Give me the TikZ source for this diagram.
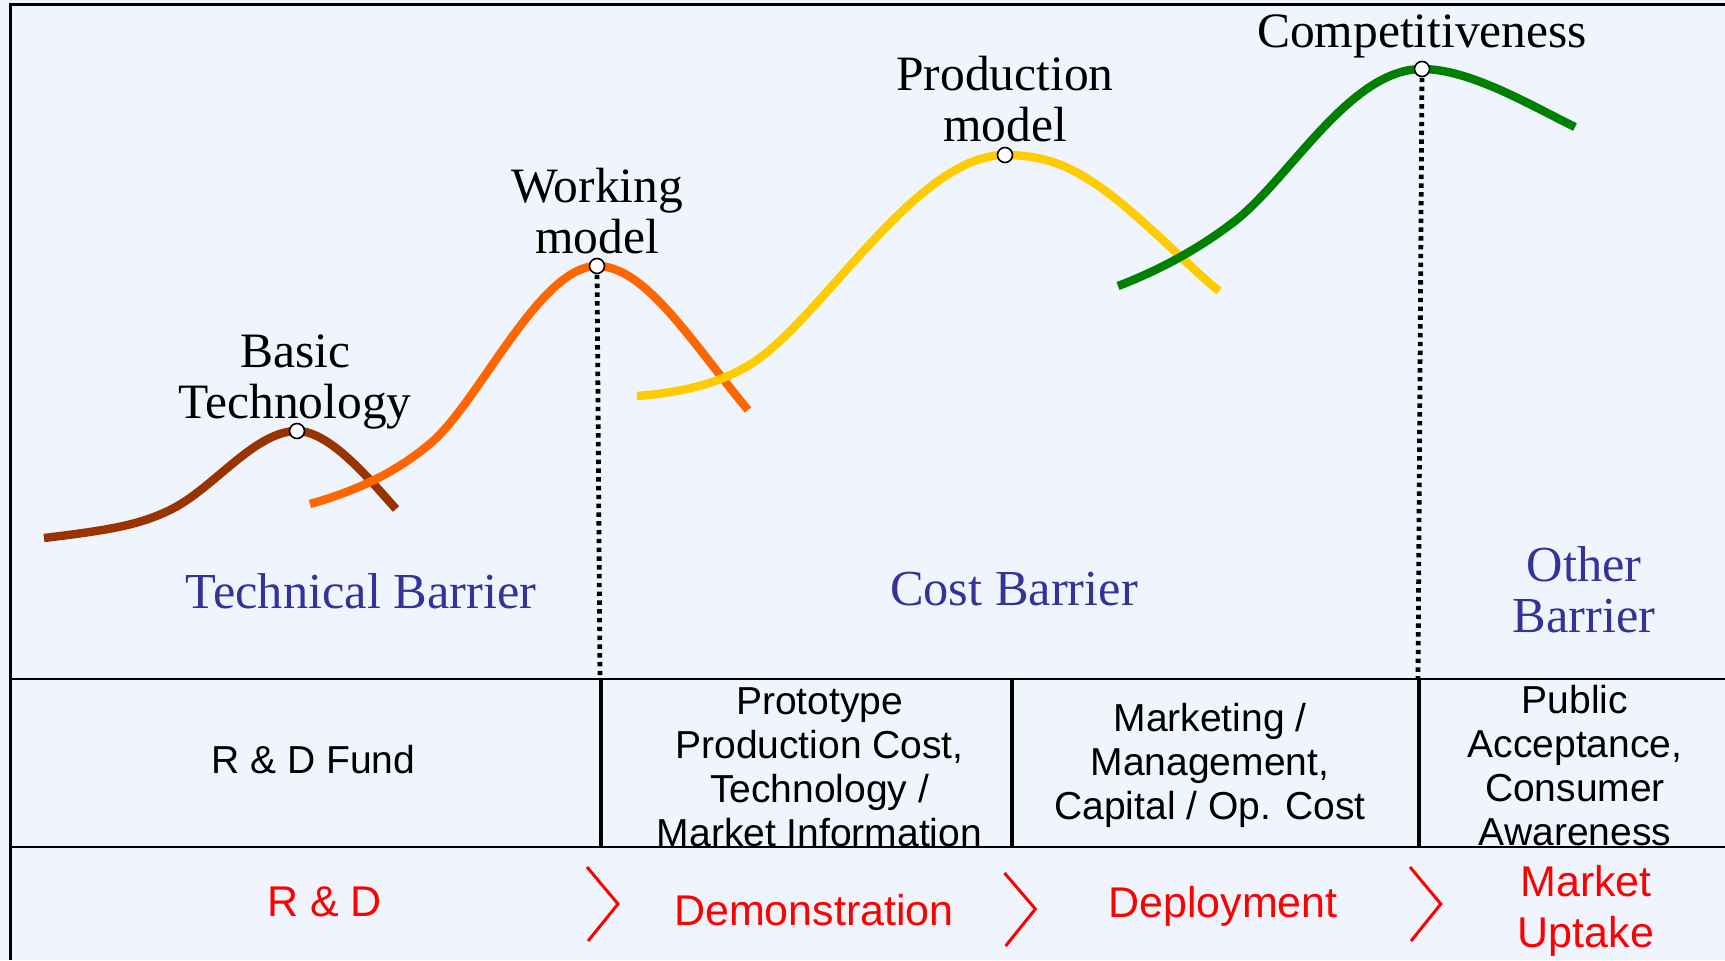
\documentclass[tikz,border=0pt]{standalone}
\usepackage{fontspec}
\setmainfont{Liberation Serif}
\setsansfont{Liberation Sans}
\definecolor{bg}{RGB}{240,245,253}
\definecolor{cbrown}{HTML}{993300}
\definecolor{corange}{HTML}{FF6600}
\definecolor{cyellow}{HTML}{FFCC00}
\definecolor{cgreen}{HTML}{008000}
\definecolor{barblue}{HTML}{333399}
\definecolor{phasered}{HTML}{FF0000}
\begin{document}
\begin{tikzpicture}[x=0.5pt,y=-0.5pt,
  curve/.style={line width=4.2pt},
  peakdot/.style={circle,draw=black,fill=white,line width=0.8pt,inner sep=0pt,minimum width=7.5pt},
  peaklabel/.style={font=\fontsize{24.75}{25.5}\selectfont,align=center,text=black,inner sep=0pt},
  barrier/.style={font=\fontsize{25.2}{25.5}\selectfont,align=center,text=barblue,inner sep=0pt},
  need/.style={font=\sffamily\fontsize{19.5}{22}\selectfont,align=center,text=black,inner sep=0pt},
  phase/.style={font=\sffamily\fontsize{21.5}{25.5}\selectfont,align=center,text=phasered,inner sep=0pt},
  chev/.style={draw=phasered,line width=1.5pt},
  gridline/.style={draw=black,line width=1.2pt},
  divline/.style={draw=black,line width=1.6pt},
  dotline/.style={draw=black,line width=2.4pt,dash pattern=on 2.2pt off 2.2pt}]
\fill[bg] (0,0) rectangle (1725,960);
\useasboundingbox (0,0) rectangle (1725,960);

% frame and table
\draw[gridline] (1725,4.5) -- (10.5,4.5) -- (10.5,960);
\coordinate (t1L) at (10.5,679);
\coordinate (t1R) at (1725,679);
\coordinate (t2L) at (10.5,847);
\coordinate (t2R) at (1725,847);
\draw[gridline] (t1L) -- (t1R);
\draw[gridline] (t2L) -- (t2R);
\coordinate (v1t) at (601,679);  \coordinate (v1b) at (601,847);
\coordinate (v2t) at (1012,679); \coordinate (v2b) at (1012,847);
\coordinate (v3t) at (1419,679); \coordinate (v3b) at (1419,847);
\draw[divline] (v1t) -- (v1b);
\draw[divline] (v2t) -- (v2b);
\draw[divline] (v3t) -- (v3b);

% peaks
\coordinate (p1) at (297,431);
\coordinate (p2) at (597,266);
\coordinate (p3) at (1005,155);
\coordinate (p4) at (1422,69);

% curves
\draw[curve,cbrown] (44,538) .. controls (110,530) and (140,525) .. (172,509)
  .. controls (215,487) and (255,431) .. (p1)
  .. controls (330,431) and (370,480) .. (396,509);
\draw[curve,corange] (310,504) .. controls (370,487) and (405,465) .. (432,442)
  .. controls (480,400) and (540,266) .. (p2)
  .. controls (645,266) and (690,340) .. (748,410);
\draw[curve,cyellow] (637,396) .. controls (690,392) and (730,380) .. (761,357)
  .. controls (830,305) and (920,155) .. (p3)
  .. controls (1050,155) and (1075,170) .. (1100,187)
  .. controls (1140,215) and (1190,268) .. (1219,291);
\draw[curve,cgreen] (1118,286) .. controls (1160,270) and (1200,248) .. (1235,221)
  .. controls (1290,178) and (1350,69) .. (p4)
  .. controls (1470,69) and (1530,105) .. (1575,127);

\coordinate (q2) at (600,679);
\coordinate (q4) at (1418,679);
\draw[dotline] (p2) -- (q2);
\draw[dotline] (p4) -- (q4);
\node[peakdot] (d1) at (p1) {};
\node[peakdot] (d2) at (p2) {};
\node[peakdot] (d3) at (p3) {};
\node[peakdot] (d4) at (p4) {};

% peak labels
\node[peaklabel] (l1) at (295,381.5) {Basic\\Technology};
\node[peaklabel] (l2) at (597,211) {Working\\model};
\node[peaklabel] (l3) at (1005,99) {Production\\model};
\node[peaklabel] (l4) at (1422,36) {Competitiveness};

% barriers
\node[barrier] (b1) at (361,591) {Technical Barrier};
\node[barrier] (b2) at (1014,589) {Cost Barrier};
\node[barrier] (b3) at (1584,590) {Other\\Barrier};

% needs row
\node[need] (n1) at (313.5,760) {R \& D Fund};
\node[need] (n2) at (819.5,767) {Prototype\\Production Cost,\\Technology /\\Market Information};
\node[need] (n3) at (1210,765.5) {Marketing /\\Management,\\Capital / Op. Cost};
\node[need] (n4) at (1575,766) {Public\\Acceptance,\\Consumer\\Awareness};

% phases row
\node[phase] (f1) at (324.5,902) {R \& D};
\node[phase] (f2) at (814,910) {Demonstration};
\node[phase] (f3) at (1223,906) {Deployment};
\node[phase] (f4) at (1586,910.5) {Market\\Uptake};

% chevrons
\draw[chev] (587,867) -- (618,904) -- (588,941);
\draw[chev] (1004.5,873) -- (1035.4,909) -- (1005.6,946);
\draw[chev] (1410,867) -- (1440.8,904) -- (1411,941);
\end{tikzpicture}
\end{document}
